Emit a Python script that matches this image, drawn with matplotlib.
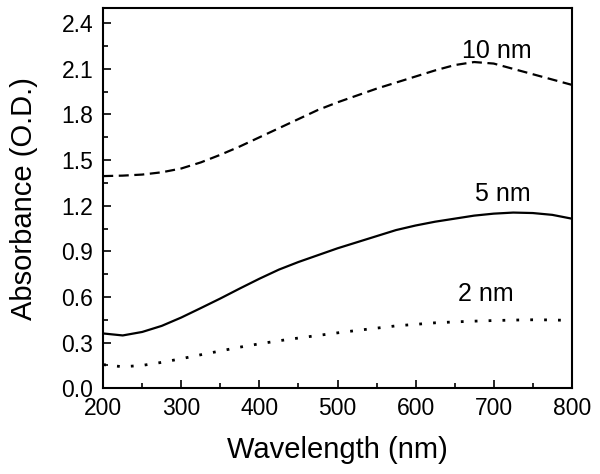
import matplotlib
matplotlib.use("Agg")
from matplotlib import pyplot as plt
from matplotlib.ticker import MultipleLocator, FormatStrFormatter

plt.rcParams['font.family'] = ['Liberation Sans', 'DejaVu Sans']

# wavelength grid (nm) and absorbance
wl = [200, 225, 250, 275, 300, 325, 350, 375, 400, 425, 450, 475, 500,
      525, 550, 575, 600, 625, 650, 675, 700, 725, 750, 775, 800]

abs_10nm = [1.395, 1.398, 1.405, 1.42, 1.445, 1.485, 1.535, 1.59, 1.65, 1.71,
            1.77, 1.83, 1.88, 1.925, 1.97, 2.01, 2.05, 2.09, 2.125, 2.145,
            2.135, 2.10, 2.065, 2.03, 1.995]
abs_5nm = [0.36, 0.347, 0.37, 0.41, 0.465, 0.527, 0.59, 0.656, 0.72, 0.78,
           0.83, 0.875, 0.92, 0.96, 1.00, 1.04, 1.07, 1.095, 1.115, 1.135,
           1.148, 1.155, 1.152, 1.14, 1.115]
abs_2nm = [0.155, 0.141, 0.15, 0.17, 0.194, 0.22, 0.245, 0.27, 0.292, 0.312,
           0.33, 0.347, 0.364, 0.38, 0.395, 0.41, 0.42, 0.43, 0.436, 0.441,
           0.445, 0.448, 0.45, 0.449, 0.445]

fig = plt.figure(figsize=(6, 4.74), dpi=100)
ax = fig.add_axes([0.172, 0.181, 0.781, 0.802])

ax.plot(wl, abs_10nm, color='black', lw=1.6, dashes=(4.5, 2.5))
ax.plot(wl, abs_5nm, color='black', lw=1.6)
ax.plot(wl, abs_2nm, color='black', lw=2.0, dashes=(1.0, 4.0))

# curve labels
ax.text(659, 2.169, '10 nm', fontsize=18, ha='left', va='baseline')
ax.text(676, 1.232, '5 nm', fontsize=18, ha='left', va='baseline')
ax.text(654, 0.571, '2 nm', fontsize=18, ha='left', va='baseline')

ax.set_xlim(200, 800)
ax.set_ylim(0, 2.5)
ax.xaxis.set_major_locator(MultipleLocator(100))
ax.xaxis.set_minor_locator(MultipleLocator(50))
ax.yaxis.set_major_locator(MultipleLocator(0.3))
ax.yaxis.set_minor_locator(MultipleLocator(0.15))
ax.yaxis.set_major_formatter(FormatStrFormatter('%.1f'))

ax.tick_params(which='both', direction='in', width=1.2, labelsize=16.5)
ax.tick_params(which='major', length=6)
ax.tick_params(which='minor', length=3.5)
ax.tick_params(axis='x', which='major', pad=6)
ax.tick_params(axis='y', which='major', pad=7)
for s in ax.spines.values():
    s.set_linewidth(1.5)

ax.set_xlabel('Wavelength (nm)', fontsize=21, labelpad=12)
ax.set_ylabel('Absorbance (O.D.)', fontsize=21, labelpad=17)

fig.savefig('out.png', dpi=100)
